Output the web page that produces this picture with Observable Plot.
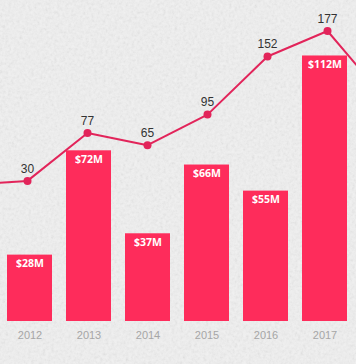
<!DOCTYPE html>
<html>
<head>
<meta charset="utf-8">
<script src="https://cdn.jsdelivr.net/npm/d3@7"></script>
<script src="https://cdn.jsdelivr.net/npm/@observablehq/plot@0.6"></script>
<style>
  html, body { margin: 0; padding: 0; }
  #wrap {
    position: relative; width: 356px; height: 364px; overflow: hidden;
    background-color: #f1f1f1;
    background-image: url("data:image/svg+xml;utf8,<svg xmlns='http://www.w3.org/2000/svg' width='356' height='364'><filter id='n'><feTurbulence type='fractalNoise' baseFrequency='0.35' numOctaves='4' stitchTiles='stitch'/><feColorMatrix type='saturate' values='0'/></filter><rect width='100%' height='100%' filter='url(%23n)' opacity='0.22'/></svg>");
  }
  #wrap svg { position: absolute; left: 0; top: 0; background: transparent; }
</style>
</head>
<body>
<div id="wrap"></div>
<script>
// Data
const years = [2012, 2013, 2014, 2015, 2016, 2017];
const funding = [28, 72, 37, 66, 55, 112];            // $M (bars)
const deals = [30, 77, 65, 95, 152, 177];              // line values
// line continues beyond the visible frame on both sides
const lineYears = [2011, 2012, 2013, 2014, 2015, 2016, 2017, 2018];
const lineValues = [26, 30, 77, 65, 95, 152, 177, 108];

const barData = years.map((y, i) => ({year: y, value: funding[i]}));
const dealData = years.map((y, i) => ({year: y, value: deals[i]}));
const lineData = lineYears.map((y, i) => ({year: y, value: lineValues[i]}));

const W = 356, H = 364;
const barColor = "#fe2c5b";
const lineColor = "#e2245a";

const bars = Plot.plot({
  width: W, height: H,
  marginTop: 0, marginBottom: 43, marginLeft: 0, marginRight: 0,
  style: {background: "transparent", overflow: "hidden"},
  x: {type: "band", domain: years, range: [-1.13, 355.1], paddingInner: 0.24, paddingOuter: 0.12},
  y: {domain: [0, 135.4], axis: null},
  marks: [
    Plot.barY(barData, {x: "year", y: "value", fill: barColor}),
    Plot.text(barData, {x: "year", y: "value", text: d => `$${d.value}M`, dy: 9,
      fill: "#ffffff", fontSize: 10.5, fontWeight: 700, fontFamily: "'Open Sans', sans-serif"}),
    Plot.axisX({tickSize: 0, tickPadding: 10, fontSize: 11, fill: "#a6a6a6",
      fontFamily: "'Liberation Sans', Arial, sans-serif", label: null, tickFormat: d => String(d)})
  ]
});

const line = Plot.plot({
  width: W, height: H,
  marginTop: 0, marginBottom: 153, marginLeft: 0, marginRight: 0,
  style: {background: "transparent", overflow: "hidden"},
  x: {type: "point", domain: lineYears, range: [-34.9, 389.3], padding: 0, axis: null},
  y: {domain: [0, 206.9], axis: null},
  marks: [
    Plot.line(lineData, {x: "year", y: "value", stroke: lineColor, strokeWidth: 2}),
    Plot.dot(dealData, {x: "year", y: "value", r: 4, fill: lineColor}),
    Plot.text(dealData, {x: "year", y: "value", text: d => String(d.value), dy: -12,
      fill: "#333333", fontSize: 12, fontFamily: "'Liberation Sans', Arial, sans-serif"})
  ]
});

const wrap = document.getElementById("wrap");
wrap.appendChild(bars);
wrap.appendChild(line);
</script>
</body>
</html>
